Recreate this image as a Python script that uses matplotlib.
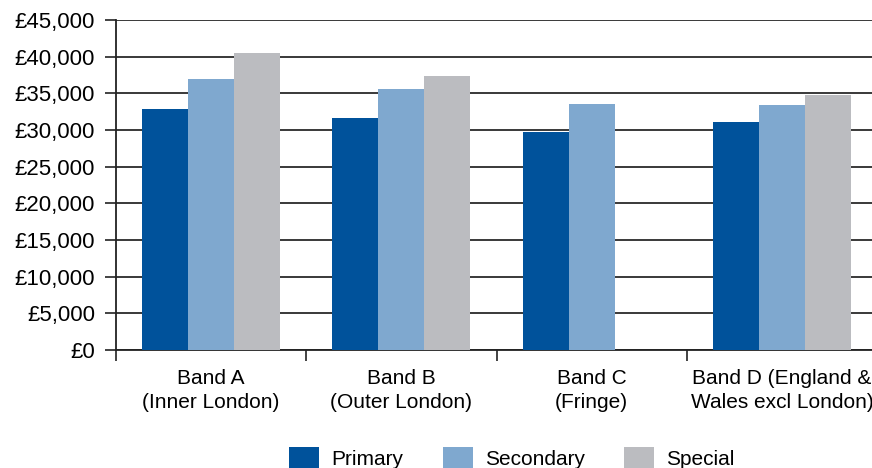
import numpy as np
import matplotlib.pyplot as plt

plt.rcParams['font.family'] = ['Liberation Sans', 'DejaVu Sans']

# Average teacher salary by pay band
bands = ['Band A\n(Inner London)', 'Band B\n(Outer London)', 'Band C\n(Fringe)',
         'Band D (England &\nWales excl London)']
primary = [32900, 31650, 29750, 31100]
secondary = [36950, 35600, 33550, 33450]
special = [40450, 37350, np.nan, 34800]

series = [('Primary', primary, '#00529b'),
          ('Secondary', secondary, '#7fa8cf'),
          ('Special', special, '#bbbcc0')]

fig = plt.figure(figsize=(8.72, 4.68), dpi=100)
ax = fig.add_axes([116 / 872, 1 - 350 / 468, 761 / 872, 330 / 468])

x = np.arange(len(bands))
w = 0.242
for i, (name, vals, col) in enumerate(series):
    ax.bar(x + (i - 1) * w, vals, width=w, color=col, label=name, zorder=3)

ax.set_xlim(-0.5, len(bands) - 0.5)
ax.set_ylim(0, 45000)
yt = np.arange(0, 45001, 5000)
ax.set_yticks(yt)
ax.set_yticklabels(['£{:,}'.format(v) for v in yt])
ax.yaxis.grid(True, color='#2a2a2a', linewidth=1.3, zorder=0)
ax.set_axisbelow(True)

# group boundaries get tick marks, labels sit in the middle
ax.set_xticks(np.arange(-0.5, len(bands), 1.0))
ax.set_xticklabels([])
ax.set_xticks(x, minor=True)
ax.set_xticklabels(bands, minor=True, fontsize=15, linespacing=1.3)
ax.tick_params(axis='x', which='minor', length=0, pad=14)
ax.tick_params(axis='x', which='major', length=8, width=1.2, color='#222222')
ax.tick_params(axis='y', length=8, width=1.2, color='#222222', labelsize=16, pad=7)

for s in ['top', 'right']:
    ax.spines[s].set_visible(False)
for s in ['left', 'bottom']:
    ax.spines[s].set_color('#222222')
    ax.spines[s].set_linewidth(1.3)

fig.legend(loc='upper center', bbox_to_anchor=(0.587, 1 - 428 / 468), ncol=3,
           frameon=False, fontsize=15, handlelength=1.44, handleheight=1.3,
           handletextpad=0.58, columnspacing=1.9)

fig.savefig('out.png', dpi=100)
